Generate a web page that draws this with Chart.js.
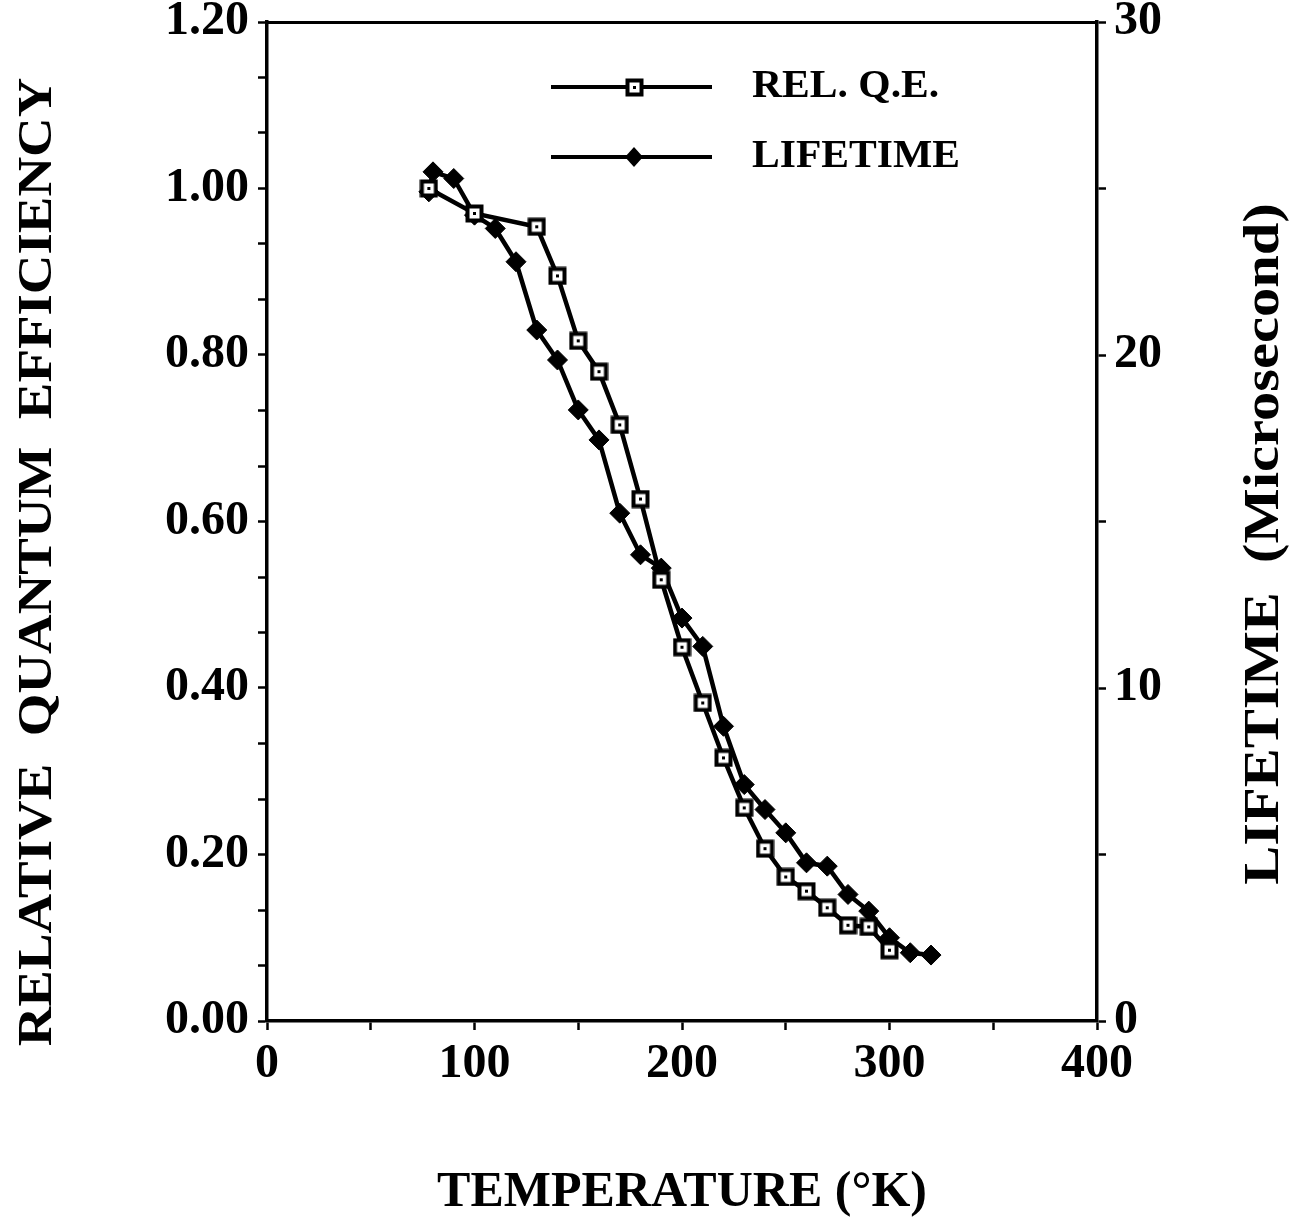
<!DOCTYPE html>
<html><head><meta charset="utf-8">
<script src="https://cdn.jsdelivr.net/npm/chart.js@4"></script>
<style>html,body{margin:0;padding:0;background:#fff;}#wrap{width:1292px;height:1227px;}</style>
</head><body><div id="wrap"><canvas id="c" width="1292" height="1227"></canvas></div>
<script>
// ---- data ----
const temperatureQE = [78,100,130,140,150,160,170,180,190,200,210,220,230,240,250,260,270,280,290,300];
const relQE = [1.00,0.97,0.954,0.895,0.817,0.78,0.716,0.627,0.53,0.449,0.382,0.316,0.256,0.207,0.173,0.156,0.136,0.115,0.113,0.085];
const temperatureLife = [78,80,90,100,110,120,130,140,150,160,170,180,190,200,210,220,230,240,250,260,270,280,290,300,310,320];
const lifetimeUs = [24.9,25.5,25.3,24.2,23.8,22.8,20.75,19.85,18.35,17.45,15.25,14.0,13.6,12.1,11.25,8.85,7.1,6.35,5.65,4.75,4.65,3.8,3.3,2.5,2.05,1.98];
const xTickLabels = ['0','100','200','300','400'];
const qeTickLabels = ['0.00','0.20','0.40','0.60','0.80','1.00','1.20'];
const lifeTickLabels = ['0','10','20','30'];
const seriesNames = ['REL. Q.E.','LIFETIME'];
const xTitle = 'TEMPERATURE (\u00B0K)';
const yTitle = 'RELATIVE  QUANTUM  EFFICIENCY';
const y1Title = 'LIFETIME  (Microsecond)';

const FONT = "'Liberation Serif', 'Times New Roman', serif";

// open square marker with centre dot
function makeSquare(){
  const s = 19, c = document.createElement('canvas');
  c.width = s; c.height = s;
  const g = c.getContext('2d');
  g.fillStyle = '#fff'; g.fillRect(1,1,s-2,s-2);
  g.strokeStyle = '#000'; g.lineWidth = 4; g.strokeRect(2.5,2.5,s-5,s-5);
  g.fillStyle = '#000'; g.fillRect(Math.floor(s/2)-1,Math.floor(s/2)-1,3,3);
  return c;
}
const squareImg = makeSquare();

const qePoints = temperatureQE.map((t,i)=>({x:t,y:relQE[i]}));
const lifePoints = temperatureLife.map((t,i)=>({x:t,y:lifetimeUs[i]}));

const customDraw = {
  id:'customDraw',
  afterDraw(chart){
    const ctx = chart.ctx, a = chart.chartArea;
    ctx.save();
    ctx.fillStyle = '#000';
    ctx.textAlign = 'center'; ctx.textBaseline = 'middle';
    // left title (wide serif look: stretched along its baseline)
    ctx.save(); ctx.translate(a.left - 229, a.top + 540); ctx.rotate(-Math.PI/2);
    ctx.scale(1.12, 1);
    ctx.font = "bold 49px " + FONT;
    ctx.fillText(yTitle, 0, 0); ctx.restore();
    // right title
    ctx.save(); ctx.translate(a.right + 168, a.top + 522); ctx.rotate(-Math.PI/2);
    ctx.scale(1.17, 1);
    ctx.font = "bold 50px " + FONT;
    ctx.fillText(y1Title, 0, 0); ctx.restore();
    // legend
    const lx0 = a.left + 284, lx1 = a.left + 445, mx = a.left + 367;
    const rows = [a.top + 65, a.top + 135];
    ctx.strokeStyle = '#000'; ctx.lineWidth = 4;
    rows.forEach(y=>{ ctx.beginPath(); ctx.moveTo(lx0,y); ctx.lineTo(lx1,y); ctx.stroke(); });
    ctx.drawImage(squareImg, mx-9, rows[0]-9);
    ctx.beginPath(); ctx.moveTo(mx, rows[1]-10); ctx.lineTo(mx+9, rows[1]); ctx.lineTo(mx, rows[1]+10); ctx.lineTo(mx-9, rows[1]); ctx.closePath(); ctx.fill();
    ctx.font = "bold 40px " + FONT; ctx.textAlign = 'left';
    ctx.save(); ctx.translate(a.left + 485, 0); ctx.scale(1.04, 1);
    ctx.fillText(seriesNames[0], 0, rows[0]);
    ctx.fillText(seriesNames[1], 0, rows[1]);
    ctx.restore();
    ctx.restore();
  }
};

const tickFont = {family: FONT, size: 48, weight: 'bold'};

new Chart(document.getElementById('c'), {
  type: 'scatter',
  data: {
    datasets: [
      {label: seriesNames[1], data: lifePoints, yAxisID: 'y1', showLine: true,
       borderColor:'#000', borderWidth:4.5, pointStyle:'rectRot', pointRadius:10,
       pointBackgroundColor:'#000', pointBorderColor:'#000', pointBorderWidth:1, order:2},
      {label: seriesNames[0], data: qePoints, yAxisID: 'y', showLine: true,
       borderColor:'#000', borderWidth:4.5, pointStyle: squareImg, pointRadius:9, order:1}
    ]
  },
  options: {
    responsive:false, animation:false, devicePixelRatio:1,
    layout:{padding:0},
    plugins:{legend:{display:false}, tooltip:{enabled:false}, title:{display:false}},
    scales:{
      x:{type:'linear', position:'bottom', min:0, max:400,
         afterBuildTicks(s){ s.ticks = [0,50,100,150,200,250,300,350,400].map(v=>({value:v})); },
         afterFit(s){ s.height = 206; s.paddingLeft = 0; s.paddingRight = 0; },
         ticks:{autoSkip:false, maxRotation:0, color:'#000', font:tickFont, padding:6,
                callback:(v)=> (v % 100 === 0) ? xTickLabels[v/100] : ''},
         grid:{drawOnChartArea:false, drawTicks:true, tickLength:9, tickWidth:2.5, tickColor:'#000'},
         border:{display:true, color:'#000', width:3.5},
         title:{display:true, text:xTitle, color:'#000', font:{family:FONT,size:50,weight:'bold'}, padding:{top:0,bottom:4}}
      },
      xTop:{type:'linear', position:'top', min:0, max:400,
         afterFit(s){ s.height = 22; s.paddingLeft = 0; s.paddingRight = 0; },
         ticks:{display:false}, grid:{display:false, drawTicks:false},
         border:{display:true, color:'#000', width:3}
      },
      y:{type:'linear', position:'left', min:0, max:1.2,
         afterBuildTicks(s){ s.ticks = Array.from({length:19},(_,i)=>({value:i*0.2/3})); },
         afterFit(s){ s.width = 267; s.paddingTop = 0; s.paddingBottom = 0; },
         ticks:{autoSkip:false, color:'#000', font:tickFont, padding:9,
                callback:(v,i)=> (i % 3 === 0) ? qeTickLabels[i/3] : ''},
         grid:{drawOnChartArea:false, drawTicks:true, tickLength:9, tickWidth:2.5, tickColor:'#000'},
         border:{display:true, color:'#000', width:3.5}
      },
      y1:{type:'linear', position:'right', min:0, max:30,
         afterBuildTicks(s){ s.ticks = [0,5,10,15,20,25,30].map(v=>({value:v})); },
         afterFit(s){ s.width = 195; s.paddingTop = 0; s.paddingBottom = 0; },
         ticks:{autoSkip:false, color:'#000', font:tickFont, padding:8,
                callback:(v)=> (v % 10 === 0) ? lifeTickLabels[v/10] : ''},
         grid:{drawOnChartArea:false, drawTicks:true, tickLength:9, tickWidth:2.5, tickColor:'#000'},
         border:{display:true, color:'#000', width:3.5}
      }
    }
  },
  plugins:[customDraw]
});
</script></body></html>
